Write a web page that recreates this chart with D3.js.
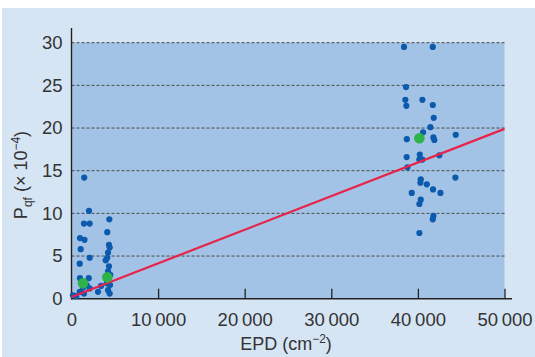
<!DOCTYPE html>
<html>
<head>
<meta charset="utf-8">
<script src="https://cdn.jsdelivr.net/npm/d3@7"></script>
<style>
  html, body { margin: 0; padding: 0; background: #fff; }
  text { font-family: "Liberation Sans", Arial, sans-serif; fill: #333; }
</style>
</head>
<body>
<div id="chart"></div>
<script>
// individual measurements (EPD in cm^-2, Pqf in units of 1e-4)
var epdPoints = [1470, 2020, 1440, 2100, 4370, 4130, 980, 1500, 4330, 4410, 1060, 4220, 2100, 4130,
  950, 4330, 4220, 4480, 980, 1990, 1330, 2100, 950, 1440, 3060, 4220, 4410, 170, 550, 3410, 4070,
  4450, 1760, 3950,
  38400, 41720, 38630, 38550, 40520, 38670, 41720, 41830, 41440, 40600, 44370, 38720, 41790, 41900,
  38700, 40220, 40520, 40170, 42480, 38790, 44330, 40330, 40290, 41030, 39290, 41750, 42600, 40330,
  40170, 41790, 41720, 40170];
var pqfPoints = [14.2, 10.3, 8.8, 8.8, 9.3, 7.8, 7.1, 6.9, 6.3, 6.0, 5.8, 5.4, 4.8, 4.8,
  4.1, 3.8, 3.2, 2.8, 2.4, 2.4, 1.3, 1.2, 0.8, 0.6, 0.8, 1.0, 0.6, 0.4, 0.3, 1.5, 1.8,
  1.6, 1.6, 4.5,
  29.5, 29.5, 24.8, 23.3, 23.3, 22.6, 22.7, 21.2, 20.1, 19.5, 19.2, 18.7, 18.9, 18.6,
  16.6, 16.9, 16.3, 16.3, 16.8, 15.4, 14.2, 14.0, 13.6, 13.4, 12.4, 12.8, 12.4, 11.6,
  11.1, 9.7, 9.3, 7.7];

// group means (green)
var epdMeans = [1330, 4130, 40170];
var pqfMeans = [1.8, 2.5, 18.8];

// linear fit
var fitEpd = [0, 50000];
var fitPqf = [0.2, 19.9];

var xTicks = [0, 10000, 20000, 30000, 40000, 50000];
var yTicks = [0, 5, 10, 15, 20, 25, 30];

var W = 535, H = 357;
var svg = d3.select("#chart").append("svg")
  .attr("width", W)
  .attr("height", H);

var x = d3.scaleLinear().domain([0, 50000]).range([71.5, 504.5]);
var y = d3.scaleLinear().domain([0, 30]).range([298.7, 42.7]);

// panel background
svg.append("rect")
  .attr("x", 2).attr("y", 8)
  .attr("width", W - 2).attr("height", H - 8)
  .attr("fill", "#d5e5f4");

// plot area
svg.append("rect")
  .attr("x", x(0)).attr("y", y(30))
  .attr("width", x(50000) - x(0)).attr("height", y(0) - y(30))
  .attr("fill", "#a3c3e6");

// dashed gridlines
svg.append("g")
  .selectAll("line")
  .data(yTicks.filter(function (d) { return d > 0; }))
  .enter()
  .append("line")
  .attr("x1", x(0)).attr("x2", x(50000))
  .attr("y1", function (d) { return y(d); })
  .attr("y2", function (d) { return y(d); })
  .attr("stroke", "#4a4a4a")
  .attr("stroke-width", 1)
  .attr("stroke-dasharray", "3,2");

// x axis (ticks pointing up into the plot)
var fmt = function (d) {
  if (d === 0) return "0";
  return Math.floor(d / 1000) + "\u2009" + "000";
};
var xAxis = svg.append("g")
  .attr("transform", "translate(0," + y(0) + ")")
  .call(d3.axisBottom(x).tickValues(xTicks).tickSizeInner(-10).tickSizeOuter(0).tickPadding(14).tickFormat(fmt));
xAxis.select(".domain").remove();
xAxis.selectAll(".tick line").attr("stroke", "#222").attr("stroke-width", 1.3)
  .filter(function (d) { return d === 0; }).remove();
xAxis.selectAll(".tick text")
  .attr("font-size", "18.5px")
  .attr("fill", "#333")
  .attr("font-family", "Liberation Sans, Arial, sans-serif");

// y axis labels
var yAxis = svg.append("g")
  .attr("transform", "translate(" + x(0) + ",0)")
  .call(d3.axisLeft(y).tickValues(yTicks).tickSize(0).tickPadding(9));
yAxis.select(".domain").remove();
yAxis.selectAll(".tick text")
  .attr("font-size", "18.5px")
  .attr("fill", "#333")
  .attr("font-family", "Liberation Sans, Arial, sans-serif");

// axis lines
svg.append("line")
  .attr("x1", x(0)).attr("x2", x(0))
  .attr("y1", 28).attr("y2", y(0) + 0.7)
  .attr("stroke", "#222").attr("stroke-width", 1.4);
svg.append("line")
  .attr("x1", x(0)).attr("x2", x(50000) + 7.5)
  .attr("y1", y(0)).attr("y2", y(0))
  .attr("stroke", "#222").attr("stroke-width", 1.4);

// individual points
var pts = epdPoints.map(function (d, i) { return [d, pqfPoints[i]]; });
svg.append("g")
  .selectAll("circle")
  .data(pts)
  .enter()
  .append("circle")
  .attr("cx", function (d) { return x(d[0]); })
  .attr("cy", function (d) { return y(d[1]); })
  .attr("r", 3.1)
  .attr("fill", "#0b5aad");

// fit line
var fit = fitEpd.map(function (d, i) { return [d, fitPqf[i]]; });
svg.append("path")
  .datum(fit)
  .attr("d", d3.line().x(function (d) { return x(d[0]); }).y(function (d) { return y(d[1]); }))
  .attr("stroke", "#e8234a")
  .attr("stroke-width", 2.2)
  .attr("fill", "none");

// means
var means = epdMeans.map(function (d, i) { return [d, pqfMeans[i]]; });
svg.append("g")
  .selectAll("circle")
  .data(means)
  .enter()
  .append("circle")
  .attr("cx", function (d) { return x(d[0]); })
  .attr("cy", function (d) { return y(d[1]); })
  .attr("r", 5.3)
  .attr("fill", "#2eb24a");

// x axis title
var xt = svg.append("text")
  .attr("x", 286).attr("y", 350)
  .attr("text-anchor", "middle")
  .attr("font-size", "18px");
xt.append("tspan").text("EPD (cm");
xt.append("tspan").attr("dy", -7).attr("font-size", "12px").text("\u22122");
xt.append("tspan").attr("dy", 7).text(")");

// y axis title
var yt = svg.append("text")
  .attr("transform", "translate(27," + 175 + ") rotate(-90)")
  .attr("text-anchor", "middle")
  .attr("font-size", "18px");
yt.append("tspan").text("P");
yt.append("tspan").attr("dy", 5).attr("font-size", "12px").text("qf");
yt.append("tspan").attr("dy", -5).text(" (\u00d7 10");
yt.append("tspan").attr("dy", -7).attr("font-size", "12px").text("\u22124");
yt.append("tspan").attr("dy", 7).text(")");
</script>
</body>
</html>
